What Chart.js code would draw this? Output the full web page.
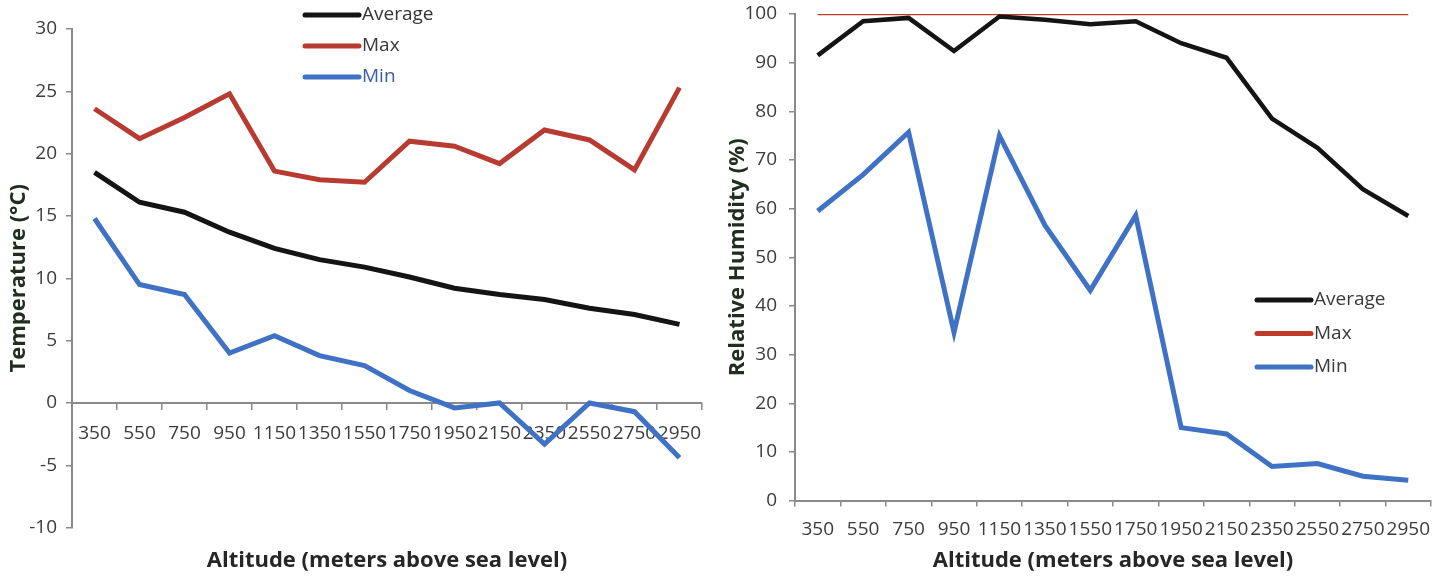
<!DOCTYPE html>
<html>
<head>
<meta charset="utf-8">
<script src="https://cdn.jsdelivr.net/npm/chart.js"></script>
<style>
  body { margin: 0; background: #fff; }
  #wrap { position: relative; width: 1451px; height: 582px; }
  .box { position: absolute; top: 0; height: 582px; }
  #left { left: 0; width: 725px; }
  #right { left: 725px; width: 726px; }
</style>
</head>
<body>
<div id="wrap">
  <div class="box" id="left"><canvas id="tempChart"></canvas></div>
  <div class="box" id="right"><canvas id="humChart"></canvas></div>
</div>

<script>
// altitude classes (m a.s.l.)
const altitudes = ['350', '550', '750', '950', '1150', '1350', '1550', '1750', '1950', '2150', '2350', '2550', '2750', '2950'];

// temperature (°C)
const tempAverage = [18.5, 16.1, 15.3, 13.7, 12.4, 11.5, 10.9, 10.1, 9.2, 8.7, 8.3, 7.6, 7.1, 6.3];
const tempMax = [23.6, 21.2, 22.9, 24.8, 18.6, 17.9, 17.7, 21.0, 20.6, 19.2, 21.9, 21.1, 18.7, 25.3];
const tempMin = [14.8, 9.5, 8.7, 4.0, 5.4, 3.8, 3.0, 1.0, -0.4, 0.0, -3.3, 0.0, -0.7, -4.4];

// relative humidity (%)
const humAverage = [91.5, 98.5, 99.2, 92.4, 99.5, 98.8, 97.9, 98.5, 94.0, 91.0, 78.5, 72.5, 64.0, 58.5];
const humMax = [100, 100, 100, 100, 100, 100, 100, 100, 100, 100, 100, 100, 100, 100];
const humMin = [59.5, 67.0, 75.7, 34.6, 75.0, 56.6, 43.2, 58.6, 15.0, 13.7, 7.0, 7.6, 5.0, 4.2];

const axisGray = '#8a8a8a';
const tickColor = '#3c3c3c';
const titleGreen = '#1f2e1f';
const black = '#141414';
const red = '#b83b32';
const blue = '#3f72c4';
const FONT = "'Open Sans'";

Chart.defaults.font.family = FONT;
Chart.defaults.animation = false;

// legend drawn as short thick lines with the label next to it
const lineLegend = {
  id: 'lineLegend',
  afterDraw(chart, args, opts) {
    const ctx = chart.ctx;
    ctx.save();
    chart.data.datasets.forEach(function(ds, i) {
      const y = opts.y + i * opts.gap;
      ctx.strokeStyle = ds.borderColor;
      ctx.lineWidth = 5;
      ctx.lineCap = 'round';
      ctx.beginPath();
      ctx.moveTo(opts.x, y);
      ctx.lineTo(opts.x + 54, y);
      ctx.stroke();
      ctx.fillStyle = opts.colors[i];
      ctx.font = '19px ' + FONT;
      ctx.textBaseline = 'middle';
      ctx.fillText(ds.label, opts.x + 57, y);
    });
    ctx.restore();
  }
};

function tickFont() {
  return { family: FONT, size: 19 };
}

function titleFont() {
  return { family: FONT, size: 22, weight: 'bold' };
}

function bottomTitle(padTop) {
  return {
    display: true,
    position: 'bottom',
    fullSize: false,
    text: 'Altitude (meters above sea level)',
    color: '#262626',
    font: titleFont(),
    padding: { top: padTop, bottom: 8 }
  };
}

// fixed width for the value axis, no extra label padding at the ends
function fixY(w) {
  return function(scale) {
    scale.width = w;
    scale.paddingTop = 0;
    scale.paddingBottom = 0;
  };
}

new Chart(document.getElementById('tempChart').getContext('2d'), {
  type: 'line',
  data: {
    labels: altitudes,
    datasets: [
      { label: 'Average', data: tempAverage, borderColor: black, borderWidth: 5, pointRadius: 0 },
      { label: 'Max', data: tempMax, borderColor: red, borderWidth: 5, pointRadius: 0 },
      { label: 'Min', data: tempMin, borderColor: blue, borderWidth: 5, pointRadius: 0 }
    ]
  },
  options: {
    responsive: true,
    maintainAspectRatio: false,
    layout: { padding: { top: 29, right: 23, left: 0, bottom: 0 } },
    plugins: {
      legend: { display: false },
      tooltip: { enabled: false },
      title: bottomTitle(20),
      lineLegend: { x: 305, y: 15, gap: 31, colors: ['#353535', '#3a3a3a', '#3b5da6'] }
    },
    scales: {
      x: {
        position: { y: 0 },
        offset: true,
        grid: { offset: true, drawOnChartArea: false, tickLength: 6, color: axisGray, lineWidth: 1.5 },
        border: { color: axisGray, width: 2 },
        ticks: { autoSkip: false, maxRotation: 0, minRotation: 0, color: tickColor, font: tickFont(), padding: 13 }
      },
      y: {
        min: -10,
        max: 30,
        grid: { drawOnChartArea: false, tickLength: 6, color: axisGray, lineWidth: 1.5 },
        border: { color: axisGray, width: 2 },
        ticks: { stepSize: 5, color: tickColor, font: tickFont(), padding: 9 },
        title: {
          display: true,
          text: 'Temperature (°C)',
          color: titleGreen,
          font: titleFont(),
          padding: { top: 6, bottom: 0 }
        },
        afterFit: fixY(72)
      }
    }
  },
  plugins: [lineLegend]
});

new Chart(document.getElementById('humChart').getContext('2d'), {
  type: 'line',
  data: {
    labels: altitudes,
    datasets: [
      { label: 'Average', data: humAverage, borderColor: black, borderWidth: 4.5, pointRadius: 0 },
      { label: 'Max', data: humMax, borderColor: '#c0392b', borderWidth: 2.5, pointRadius: 0 },
      { label: 'Min', data: humMin, borderColor: blue, borderWidth: 5, pointRadius: 0 }
    ]
  },
  options: {
    responsive: true,
    maintainAspectRatio: false,
    layout: { padding: { top: 14, right: 20, left: 0, bottom: 0 } },
    plugins: {
      legend: { display: false },
      tooltip: { enabled: false },
      title: bottomTitle(11),
      lineLegend: { x: 532, y: 300, gap: 33.5, colors: ['#3a3a3a', '#3a3a3a', '#3a3a3a'] }
    },
    scales: {
      x: {
        offset: true,
        grid: { offset: true, drawOnChartArea: false, tickLength: 6, color: axisGray, lineWidth: 1.5 },
        border: { color: axisGray, width: 2 },
        ticks: { autoSkip: false, maxRotation: 0, minRotation: 0, color: tickColor, font: tickFont(), padding: 12 },
        afterFit: function(scale) { scale.height = 36; }
      },
      y: {
        min: 0,
        max: 100,
        grid: { drawOnChartArea: false, tickLength: 6, color: axisGray, lineWidth: 1.5 },
        border: { color: axisGray, width: 2 },
        ticks: { stepSize: 10, color: tickColor, font: tickFont(), padding: 12 },
        title: {
          display: true,
          text: 'Relative Humidity (%)',
          color: titleGreen,
          font: titleFont(),
          padding: { top: 0, bottom: 0 }
        },
        afterFit: fixY(70)
      }
    }
  },
  plugins: [lineLegend]
});
</script>
</body>
</html>
